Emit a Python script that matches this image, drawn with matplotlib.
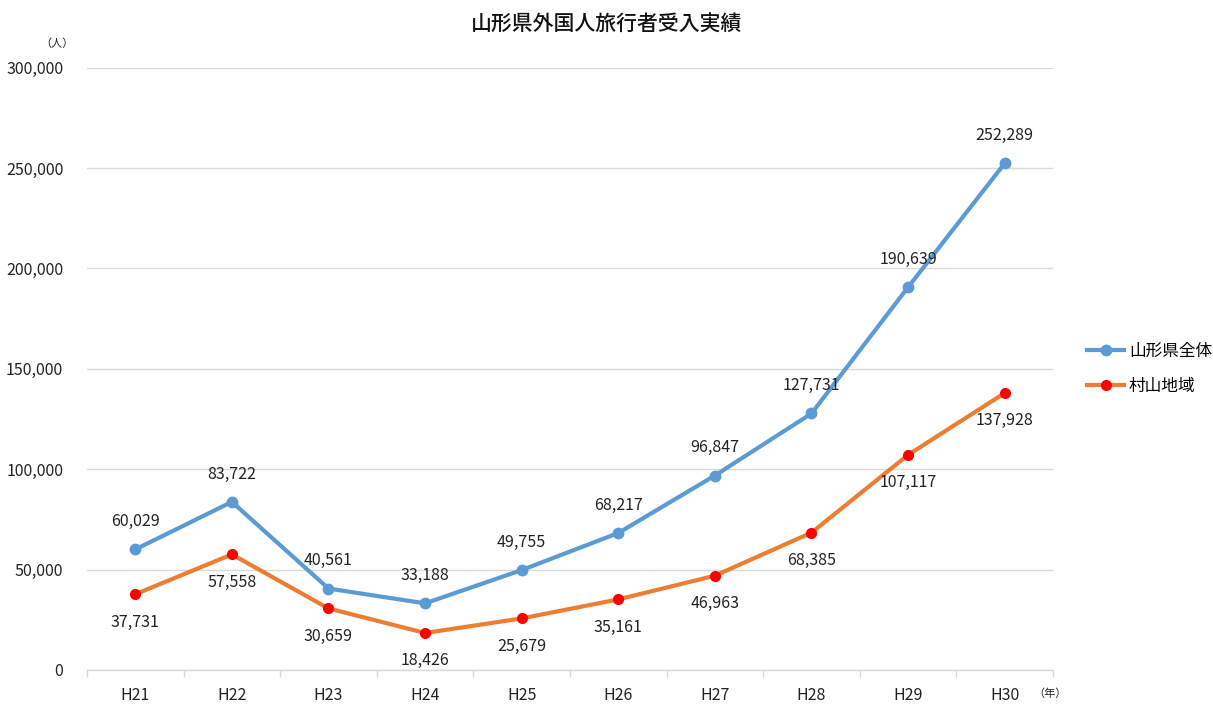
import matplotlib
matplotlib.use("Agg")
import matplotlib.pyplot as plt
from matplotlib.ticker import FuncFormatter, FixedLocator

plt.rcParams['font.family'] = ['Noto Sans CJK JP', 'DejaVu Sans']

# ── Data ─────────────────────────────────────────────────────────────────────
years = ["H21", "H22", "H23", "H24", "H25", "H26", "H27", "H28", "H29", "H30"]
yamagata_total = [60029, 83722, 40561, 33188, 49755, 68217, 96847, 127731, 190639, 252289]
murayama = [37731, 57558, 30659, 18426, 25679, 35161, 46963, 68385, 107117, 137928]

BLUE = "#5B9BD5"
ORANGE = "#ED7D31"
RED = "#FF0000"
TEXT = "#222222"

fig = plt.figure(figsize=(12.13, 7.06), dpi=100)
ax = fig.add_axes([0.0717, 0.051, 0.7964, 0.8533])

x = list(range(len(years)))
ax.plot(x, yamagata_total, "-o", color=BLUE, lw=3, ms=7.5,
        markerfacecolor=BLUE, markeredgecolor=BLUE, label="山形県全体", zorder=3)
ax.plot(x, murayama, "-o", color=ORANGE, lw=3, ms=7,
        markerfacecolor=RED, markeredgecolor=RED, label="村山地域", zorder=3)

for xi, v in zip(x, yamagata_total):
    ax.annotate(f"{v:,}", (xi, v), xytext=(0, 20), textcoords="offset points",
                ha="center", va="center", fontsize=11.5, color=TEXT)
for xi, v in zip(x, murayama):
    ax.annotate(f"{v:,}", (xi, v), xytext=(0, -20), textcoords="offset points",
                ha="center", va="center", fontsize=11.5, color=TEXT)

ax.set_xlim(-0.5, len(years) - 0.5)
ax.set_ylim(0, 300000)
ax.set_yticks(range(0, 300001, 50000))
ax.yaxis.set_major_formatter(FuncFormatter(lambda v, p: f"{int(v):,}"))
ax.set_xticks(x)
ax.set_xticklabels(years)
ax.xaxis.set_minor_locator(FixedLocator([i - 0.5 for i in range(len(years) + 1)]))
ax.tick_params(axis="x", which="major", length=0, pad=12, labelsize=11.5, labelcolor=TEXT)
ax.tick_params(axis="x", which="minor", length=5, color="#D9D9D9", width=1)
ax.tick_params(axis="y", length=0, pad=17, labelsize=11.5, labelcolor=TEXT)

ax.grid(axis="y", color="#D9D9D9", lw=1)
ax.set_axisbelow(True)
for s in ["top", "right", "left"]:
    ax.spines[s].set_visible(False)
ax.spines["bottom"].set_color("#D9D9D9")
ax.spines["bottom"].set_linewidth(1)

fig.text(0.500, 0.965, "山形県外国人旅行者受入実績", ha="center", va="center",
         fontsize=15, fontweight="medium", color="#111111")
fig.text(0.047, 0.938, "（人）", ha="center", va="center", fontsize=8, color=TEXT)
fig.text(0.866, 0.010, "（年）", ha="center", va="bottom", fontsize=8, color=TEXT)

ax.legend(loc="center left", bbox_to_anchor=(1.02, 0.5), frameon=False,
          fontsize=12, handlelength=2.2, labelspacing=1.1, handletextpad=0.3)

fig.savefig("out.png", dpi=100, facecolor="white")
